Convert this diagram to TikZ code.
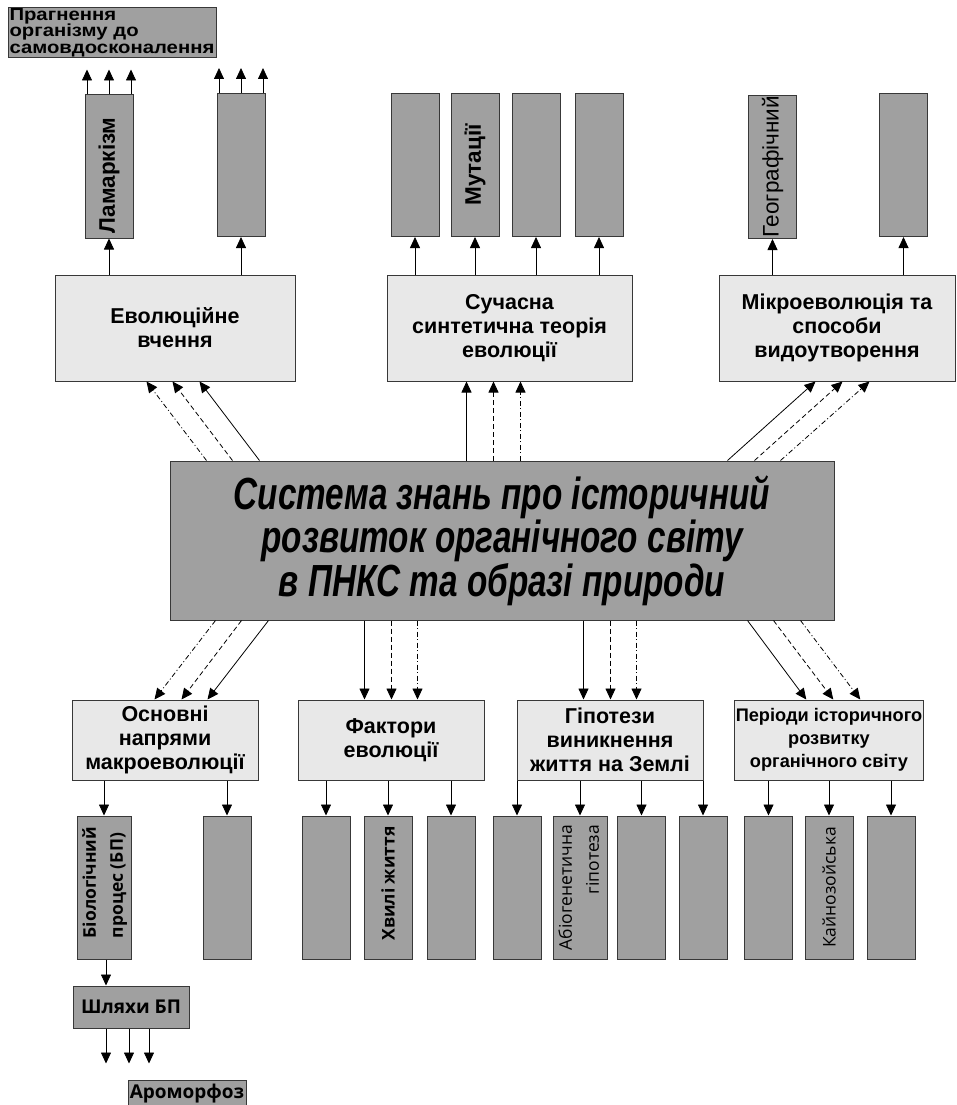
\documentclass[tikz,border=0pt]{standalone}
\usepackage{fontspec}
\usepackage{graphicx}
\setmainfont{Liberation Sans}
\newfontfamily\osfont{Open Sans}
\newfontfamily\narrowfont[FakeStretch=0.74]{Liberation Sans}
\newfontfamily\widefont[FakeStretch=1.16]{Liberation Sans}
\usetikzlibrary{arrows.meta, positioning}
\definecolor{barfill}{HTML}{A0A0A0}
\definecolor{boxfill}{HTML}{E8E8E8}
\definecolor{edgecol}{HTML}{383838}

\begin{document}
\begin{tikzpicture}[x=1pt, y=-1pt,
    topic/.style={rectangle, draw=edgecol, fill=boxfill, line width=1pt,
                  minimum width=240pt, minimum height=106pt, inner sep=1pt,
                  align=center, font=\fontsize{21.5}{24}\selectfont\bfseries},
    subtopic/.style={topic, minimum width=186pt, minimum height=80pt},
    core/.style={rectangle, draw=edgecol, fill=barfill, line width=1pt,
                 minimum width=664pt, minimum height=159pt, align=center,
                 font=\narrowfont\fontsize{45}{43.5}\selectfont\bfseries\itshape},
    bar/.style={rectangle, draw=edgecol, fill=barfill, line width=1pt,
                minimum width=48pt, minimum height=143pt, inner sep=0pt,
                font=\fontsize{22.5}{24}\selectfont\bfseries},
    lowbar/.style={bar, font=\osfont\fontsize{17.5}{27}\selectfont},
    tag/.style={rectangle, draw=edgecol, fill=barfill, line width=1pt,
                inner sep=1pt, font=\osfont\fontsize{19}{22}\selectfont\bfseries},
    arr/.style={-{Triangle[length=11pt,width=10pt]}, line width=0.8pt},
    dsh/.style={arr, dash pattern=on 5pt off 3pt},
    dshdot/.style={arr, dash pattern=on 5pt off 2.5pt on 1pt off 2.5pt},
  ]
  \useasboundingbox (0,0) rectangle (956,1105);

  % centre
  \node[core] (sys) at (502,540.5) {Система знань про історичний\\розвиток органічного світу\\в ПНКС та образі природи};

  % upper row
  \node[topic] (evo) at (175,328) {Еволюційне\\вчення};
  \node[topic, minimum width=245pt] (sst) at (509.5,328) {Сучасна\\синтетична теорія\\еволюції};
  \node[topic, minimum width=236pt] (mic) at (837,328) {Мікроеволюція та\\способи\\видоутворення};

  \node[bar] (lam)  at (109,166.5) {\rotatebox{90}{Ламаркізм\hspace*{18pt}}};
  \node[bar] (evo2) at (241,165) {};
  \node[bar] (sst1) at (415,165) {};
  \node[bar] (mut)  at (475,165) {\rotatebox{90}{Мутації}};
  \node[bar] (sst3) at (536,165) {};
  \node[bar] (sst4) at (599,165) {};
  \node[bar, font=\fontsize{22.5}{24}\selectfont] (geo) at (772.5,167) {\rotatebox{90}{Географічний}};
  \node[bar] (mic2) at (903.5,165) {};

  \node[rectangle, draw=edgecol, fill=barfill, line width=1pt, minimum width=208pt,
        minimum height=49pt, inner sep=1pt, text width=205pt, align=left,
        font=\widefont\fontsize{17.5}{16.5}\selectfont\bfseries] (prag) at (112,32.5)
        {Прагнення\\організму до\\самовдосконалення};

  % lower row
  \node[subtopic] (osn) at (165,740) {Основні\\напрями\\макроеволюції};
  \node[subtopic] (fak) at (391,740) {Фактори\\еволюції};
  \node[subtopic] (gip) at (610,740) {Гіпотези\\виникнення\\життя на Землі};
  \node[subtopic, font=\fontsize{18.2}{23}\selectfont\bfseries] (per) at (829,740)
        {Періоди історичного\\розвитку\\органічного світу};

  \node[lowbar, font=\osfont\fontsize{17.5}{27}\selectfont\bfseries] (bio) at (104,887.5)
        {\rotatebox{90}{\hspace*{10pt}\begin{tabular}{@{}l@{}}Біологічний\\процес (БП)\end{tabular}}};
  \node[lowbar] (osn2) at (227,887.5) {};
  \node[lowbar] (fak1) at (326,887.5) {};
  \node[lowbar, font=\osfont\fontsize{17.5}{27}\selectfont\bfseries] (hvy) at (388,887.5)
        {\rotatebox{90}{\hspace*{8pt}Хвилі життя}};
  \node[lowbar] (fak3) at (451,887.5) {};
  \node[lowbar] (gip1) at (517,887.5) {};
  \node[lowbar] (abio) at (580,887.5)
        {\rotatebox{90}{\begin{tabular}{@{}r@{}}Абіогенетична\\гіпотеза\end{tabular}}};
  \node[lowbar] (gip3) at (641.5,887.5) {};
  \node[lowbar] (gip4) at (703,887.5) {};
  \node[lowbar] (per1) at (768.5,887.5) {};
  \node[lowbar] (kai)  at (829,887.5) {\rotatebox{90}{Кайнозойська}};
  \node[lowbar] (per3) at (891,887.5) {};

  \node[tag, minimum width=116pt, minimum height=42pt] (shl) at (131,1007) {Шляхи БП};
  \node[tag, minimum width=118pt, minimum height=28pt] (aro) at (187,1094) {Ароморфоз};

  % centre -> upper boxes
  \draw[arr]    ([xshift=90pt]sys.north west) -- ([xshift=145pt]evo.south west);
  \draw[dsh]    ([xshift=63pt]sys.north west) -- ([xshift=118pt]evo.south west);
  \draw[dshdot] ([xshift=37pt]sys.north west) -- ([xshift=92pt]evo.south west);

  \draw[arr]    ([xshift=80pt]sst.south west |- sys.north) -- ([xshift=80pt]sst.south west);
  \draw[dsh]    ([xshift=107pt]sst.south west |- sys.north) -- ([xshift=107pt]sst.south west);
  \draw[dshdot] ([xshift=134pt]sst.south west |- sys.north) -- ([xshift=134pt]sst.south west);

  \draw[arr]    ([xshift=-107pt]sys.north east) -- ([xshift=97pt]mic.south west);
  \draw[dsh]    ([xshift=-80pt]sys.north east) -- ([xshift=124pt]mic.south west);
  \draw[dshdot] ([xshift=-54pt]sys.north east) -- ([xshift=151pt]mic.south west);

  % centre -> lower boxes
  \draw[arr]    ([xshift=99pt]sys.south west) -- ([xshift=136pt]osn.north west);
  \draw[dsh]    ([xshift=72pt]sys.south west) -- ([xshift=110pt]osn.north west);
  \draw[dshdot] ([xshift=46pt]sys.south west) -- ([xshift=83pt]osn.north west);

  \draw[arr]    ([xshift=67pt]fak.north west |- sys.south) -- ([xshift=67pt]fak.north west);
  \draw[dsh]    ([xshift=94pt]fak.north west |- sys.south) -- ([xshift=94pt]fak.north west);
  \draw[dshdot] ([xshift=120pt]fak.north west |- sys.south) -- ([xshift=120pt]fak.north west);

  \draw[arr]    ([xshift=67pt]gip.north west |- sys.south) -- ([xshift=67pt]gip.north west);
  \draw[dsh]    ([xshift=94pt]gip.north west |- sys.south) -- ([xshift=94pt]gip.north west);
  \draw[dshdot] ([xshift=120pt]gip.north west |- sys.south) -- ([xshift=120pt]gip.north west);

  \draw[arr]    ([xshift=-87pt]sys.south east) -- ([xshift=72pt]per.north west);
  \draw[dsh]    ([xshift=-61pt]sys.south east) -- ([xshift=99pt]per.north west);
  \draw[dshdot] ([xshift=-34pt]sys.south east) -- ([xshift=126pt]per.north west);

  % boxes -> bars
  \foreach \b in {lam,evo2} \draw[arr] (evo.north -| \b.south) -- (\b.south);
  \foreach \b in {sst1,mut,sst3,sst4} \draw[arr] (sst.north -| \b.south) -- (\b.south);
  \foreach \b in {geo,mic2} \draw[arr] (mic.north -| \b.south) -- (\b.south);

  \foreach \b in {bio,osn2} \draw[arr] (osn.south -| \b.north) -- (\b.north);
  \foreach \b in {fak1,hvy,fak3} \draw[arr] (fak.south -| \b.north) -- (\b.north);
  \foreach \b in {gip1,abio,gip3,gip4} \draw[arr] (gip.south -| \b.north) -- (\b.north);
  \foreach \b in {per1,kai,per3} \draw[arr] (per.south -| \b.north) -- (\b.north);

  % free arrows
  \foreach \n in {lam,evo2}
    \foreach \i/\dx in {1/-22,2/0,3/22} {
      \coordinate (\n-up\i) at ([xshift=\dx pt, yshift=25pt]\n.north);
      \draw[arr] ([xshift=\dx pt]\n.north) -- (\n-up\i);
    }

  \draw[arr] ([xshift=2pt]bio.south) -- ([xshift=2pt]bio.south |- shl.north);
  \foreach \i/\dx in {1/-25,2/-2,3/18} {
    \coordinate (shl-dn\i) at ([xshift=\dx pt, yshift=-35pt]shl.south);
    \draw[arr] ([xshift=\dx pt]shl.south) -- (shl-dn\i);
  }
\end{tikzpicture}
\end{document}
